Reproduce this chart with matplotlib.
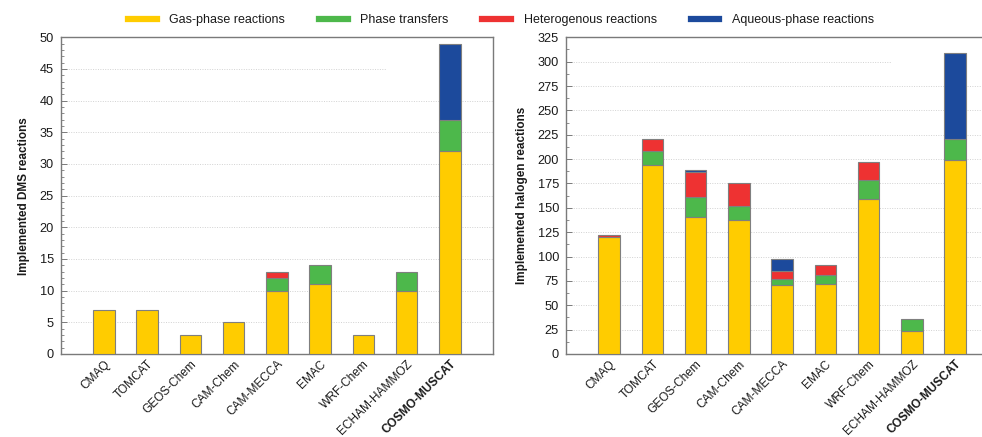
import matplotlib
matplotlib.use("Agg")
import matplotlib.pyplot as plt
from matplotlib.lines import Line2D
from matplotlib.patches import Rectangle
from matplotlib.ticker import MultipleLocator
import numpy as np

plt.rcParams['font.family'] = ['Liberation Sans', 'DejaVu Sans']

models = ["CMAQ", "TOMCAT", "GEOS-Chem", "CAM-Chem", "CAM-MECCA",
          "EMAC", "WRF-Chem", "ECHAM-HAMMOZ", "COSMO-MUSCAT"]

components = ["Gas-phase reactions", "Phase transfers",
              "Heterogenous reactions", "Aqueous-phase reactions"]
colors = ["#FFCC00", "#4DB84B", "#EE3232", "#1C4A9C"]

# DMS reactions per model
dms_gas = [7, 7, 3, 5, 10, 11, 3, 10, 32]
dms_phase = [0, 0, 0, 0, 2, 3, 0, 3, 5]
dms_het = [0, 0, 0, 0, 1, 0, 0, 0, 0]
dms_aq = [0, 0, 0, 0, 0, 0, 0, 0, 12]

# Halogen reactions per model
hal_gas = [120, 194, 141, 138, 71, 72, 159, 24, 199]
hal_phase = [0, 14, 20, 14, 6, 9, 20, 12, 22]
hal_het = [2, 13, 26, 23, 8, 10, 18, 0, 0]
hal_aq = [0, 0, 2, 0, 13, 0, 0, 0, 88]

W, H = 982, 437
fig = plt.figure(figsize=(W / 100, H / 100), dpi=100)

ax_w = 432.3 / W
ax_h = 316.7 / H
ax_b = (H - 354) / H
ax1 = fig.add_axes([60.7 / W, ax_b, ax_w, ax_h])
ax2 = fig.add_axes([566 / W, ax_b, ax_w, ax_h])

spine_col = "#7a7a7a"
text_col = "#1a1a1a"


def draw_panel(ax, series, ymax, major, minor, ylabel):
    x = np.arange(len(models))
    bottom = np.zeros(len(models))
    for vals, col in zip(series, colors):
        vals = np.asarray(vals, dtype=float)
        mask = vals > 0
        ax.bar(x[mask], vals[mask], bottom=bottom[mask], width=0.5,
               color=col, edgecolor="#7f7f7f", linewidth=0.8, zorder=3)
        bottom += vals
    ax.set_xlim(-1, 9)
    ax.set_ylim(0, ymax)
    ax.yaxis.set_major_locator(MultipleLocator(major))
    ax.yaxis.set_minor_locator(MultipleLocator(minor))
    ax.set_axisbelow(True)
    ax.grid(axis="y", which="major", linestyle=(0, (1, 1.5)),
            color="#d2d2d2", linewidth=0.7)
    # blank patch over the grid in the upper right corner
    ax.add_patch(Rectangle((0.755, 0.855), 0.3, 0.2, transform=ax.transAxes,
                           facecolor="white", edgecolor="none", zorder=1))
    ax.tick_params(axis="y", which="major", direction="in", length=4,
                   width=0.7, color=spine_col, labelsize=9.2,
                   labelcolor=text_col, pad=5)
    ax.tick_params(axis="y", which="minor", direction="in", length=2.5,
                   width=0.6, color=spine_col)
    ax.tick_params(axis="x", length=0, pad=3, labelcolor=text_col)
    ax.set_xticks(x)
    ax.set_xticklabels(models, rotation=45, ha="right",
                       rotation_mode="anchor", fontsize=8.6)
    ax.get_xticklabels()[-1].set_fontweight("bold")
    for s in ax.spines.values():
        s.set_color(spine_col)
        s.set_linewidth(1.0)
    ax.set_ylabel(ylabel, fontsize=8.5, fontweight="bold", color=text_col,
                  labelpad=7)


draw_panel(ax1, [dms_gas, dms_phase, dms_het, dms_aq], 50, 5, 1,
           "Implemented DMS reactions")
draw_panel(ax2, [hal_gas, hal_phase, hal_het, hal_aq], 325, 25, 12.5,
           "Implemented halogen reactions")

handles = [Line2D([0], [0], color=c, linewidth=4.5) for c in colors]
fig.legend(handles, components, loc="center", ncol=4,
           bbox_to_anchor=(501 / W, 1 - 20 / H), frameon=False,
           fontsize=9, handlelength=2.3, handletextpad=1.0,
           columnspacing=2.7, labelcolor=text_col)

fig.savefig("out.png", dpi=100)
